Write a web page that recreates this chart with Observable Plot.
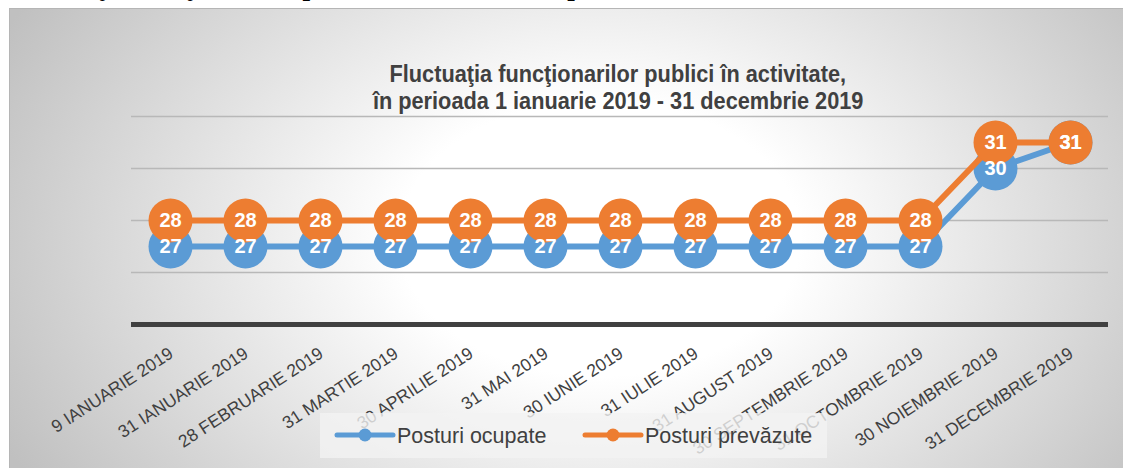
<!DOCTYPE html>
<html><head><meta charset="utf-8">
<script src="https://cdn.jsdelivr.net/npm/d3@7"></script>
<script src="https://cdn.jsdelivr.net/npm/@observablehq/plot@0.6"></script>
<style>
html,body{margin:0;padding:0;background:#fff;}
#root{position:relative;width:1123px;height:468px;overflow:hidden;font-family:"Liberation Sans",Arial,sans-serif;}
#topclip{position:absolute;left:0;top:0;width:1123px;height:8px;overflow:hidden;}
#topclip span{position:absolute;left:9px;top:-27.5px;font:bold 27px/27px "Liberation Serif","Times New Roman",serif;color:#000;white-space:nowrap;}
#box{position:absolute;left:9px;top:8px;width:1114px;height:460px;box-sizing:border-box;border-top:1px solid #b5b5b5;border-left:1px solid #b5b5b5;
 background:radial-gradient(ellipse 60% 100% at 53% 50%, #ffffff 30%, #c0c0c0 100%);}
#chart{position:absolute;left:0;top:0;}
.tl{position:absolute;left:0;width:1236px;text-align:center;white-space:nowrap;}
.tl span{display:inline-block;transform:scaleX(0.925);transform-origin:50% 50%;font:bold 23.5px/23.5px "Liberation Sans",Arial,sans-serif;color:#404040;}
#legend{position:absolute;left:0;top:0;pointer-events:none;}
</style></head><body>
<div id="root">
 <div id="topclip"><span>Fluctuaţia funcţionarilor publici în activitate, în perioada 1 ianuarie 2019 – 31 decembrie 2019</span></div>
 <div id="box"></div>
 <div id="chart"></div>
 <div class="tl" style="top:63px"><span>Fluctuaţia funcţionarilor publici în activitate,</span></div>
 <div class="tl" style="top:90px"><span>în perioada 1 ianuarie 2019 - 31 decembrie 2019</span></div>
 <svg id="legend" width="1123" height="468"></svg>
</div>
<script>
const dates = ["9 IANUARIE 2019", "31 IANUARIE 2019", "28 FEBRUARIE 2019", "31 MARTIE 2019", "30 APRILIE 2019", "31 MAI 2019", "30 IUNIE 2019", "31 IULIE 2019", "31 AUGUST 2019", "30 SEPTEMBRIE 2019", "31 OCTOMBRIE 2019", "30 NOIEMBRIE 2019", "31 DECEMBRIE 2019"];
const ocupate = [27, 27, 27, 27, 27, 27, 27, 27, 27, 27, 27, 30, 31];
const prevazute = [28, 28, 28, 28, 28, 28, 28, 28, 28, 28, 28, 31, 31];
const seriesNames = ["Posturi ocupate", "Posturi prevăzute"];
const gridValues = [26, 28, 30, 32];

const blue = "#5B9BD5", orange = "#ED7D31";
const dOc = dates.map((d, i) => ({date: d, value: ocupate[i]}));
const dPr = dates.map((d, i) => ({date: d, value: prevazute[i]}));

const chart = Plot.plot({
  width: 1123, height: 468,
  marginLeft: 131, marginRight: 15, marginTop: 116, marginBottom: 144,
  style: {background: "transparent", fontFamily: "'Liberation Sans', Arial, sans-serif", overflow: "visible"},
  x: {type: "point", domain: dates, padding: 0.5, axis: null},
  y: {domain: [24, 32], axis: null},
  marks: [
    Plot.ruleY(gridValues, {stroke: "#b8b8b8", strokeWidth: 1.5}),
    Plot.ruleY([24], {stroke: "#404040", strokeWidth: 5}),
    Plot.line(dOc, {x: "date", y: "value", stroke: blue, strokeWidth: 6}),
    Plot.dot(dOc, {x: "date", y: "value", r: 22, fill: blue, stroke: null}),
    Plot.line(dPr, {x: "date", y: "value", stroke: orange, strokeWidth: 6}),
    Plot.dot(dPr, {x: "date", y: "value", r: 22, fill: orange, stroke: null}),
    Plot.text(dOc, {x: "date", y: "value", text: d => String(d.value), fill: "white", fontWeight: "bold", fontSize: 20}),
    Plot.text(dPr, {x: "date", y: "value", text: d => String(d.value), fill: "white", fontWeight: "bold", fontSize: 20}),
    Plot.text(dates, {x: d => d, frameAnchor: "bottom", text: d => d, rotate: -33, textAnchor: "end", lineAnchor: "bottom", dx: 4, dy: 32, fontSize: 17.5, fill: "#404040"})
  ]
});
document.getElementById("chart").appendChild(chart);

// legend
const lg = d3.select("#legend");
lg.append("rect").attr("x", 320).attr("y", 413).attr("width", 507).attr("height", 45).attr("fill", "#f2f2f2").attr("fill-opacity", 0.8);
const items = [{name: seriesNames[0], color: blue, x0: 337}, {name: seriesNames[1], color: orange, x0: 585}];
items.forEach(it => {
  lg.append("line").attr("x1", it.x0).attr("x2", it.x0 + 56).attr("y1", 435).attr("y2", 435).attr("stroke", it.color).attr("stroke-width", 5).attr("stroke-linecap", "round");
  lg.append("circle").attr("cx", it.x0 + 28).attr("cy", 435).attr("r", 6.5).attr("fill", it.color);
  lg.append("text").attr("x", it.x0 + 60).attr("y", 443).attr("font-size", 21.5).attr("fill", "#404040")
    .attr("font-family", "'Liberation Sans', Arial, sans-serif").text(it.name);
});
</script>
</body></html>
